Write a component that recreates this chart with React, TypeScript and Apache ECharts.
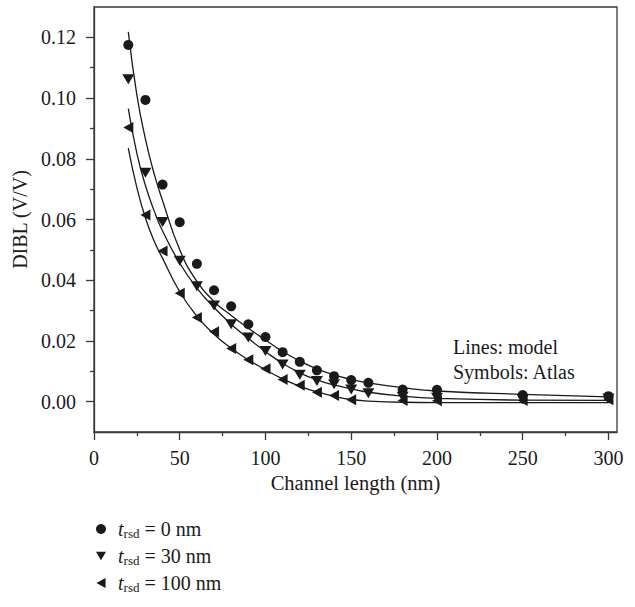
import React, { useEffect, useRef } from "react";
import * as echarts from "echarts";

// ---- Data ----
const atlasLengths = [20, 30, 40, 50, 60, 70, 80, 90, 100, 110, 120, 130, 140, 150, 160, 180, 200, 250, 300];
const atlas0 = [0.1175, 0.0994, 0.0715, 0.0591, 0.0454, 0.0367, 0.0314, 0.0255, 0.0213, 0.0163, 0.0131, 0.0103, 0.0084, 0.0071, 0.0062, 0.004, 0.0039, 0.0022, 0.0018];
const atlas30 = [0.1062, 0.0754, 0.0592, 0.0464, 0.038, 0.0317, 0.0255, 0.0211, 0.0167, 0.0122, 0.0089, 0.0068, 0.0057, 0.004, 0.0028, 0.0016, 0.0013, 0.0008, 0.001];
const atlasLengths100 = [20, 30, 40, 50, 60, 70, 80, 90, 100, 110, 120, 130, 140, 150, 180, 200, 250, 300];
const atlas100 = [0.0903, 0.0615, 0.0496, 0.0357, 0.0277, 0.023, 0.0175, 0.0138, 0.0108, 0.0073, 0.0054, 0.0031, 0.002, 0.0006, 0.0004, 0.0003, 0.0004, 0.0006];

const modelLengths = [20, 25, 30, 35, 40, 50, 60, 70, 80, 90, 100, 110, 120, 130, 140, 150, 160, 180, 200, 250, 300];
const model0 = [0.1218, 0.101, 0.0865, 0.0752, 0.0662, 0.05, 0.0396, 0.033, 0.0284, 0.0242, 0.0203, 0.0165, 0.0134, 0.0108, 0.0088, 0.0073, 0.0062, 0.0046, 0.0035, 0.0024, 0.0016];
const model30 = [0.0965, 0.0818, 0.0712, 0.063, 0.0562, 0.0456, 0.0374, 0.031, 0.0255, 0.0208, 0.0165, 0.0126, 0.0095, 0.0072, 0.0055, 0.0042, 0.0031, 0.0018, 0.0011, 0.0005, 0.0004];
const model100 = [0.0835, 0.0705, 0.0605, 0.053, 0.0472, 0.0362, 0.0282, 0.0222, 0.0176, 0.0138, 0.0105, 0.0075, 0.0051, 0.0032, 0.0018, 0.0007, 0.0002, -0.0002, -0.0003, -0.0003, -0.0003];

const thicknesses = ["0", "30", "100"];
const seriesNames = ["trsd = 0 nm", "trsd = 30 nm", "trsd = 100 nm"];

const xMajor = [0, 50, 100, 150, 200, 250, 300];
const xMinor = [25, 75, 125, 175, 225, 275];
const yMajor = [0, 0.02, 0.04, 0.06, 0.08, 0.1, 0.12];
const yMinor = [0.01, 0.03, 0.05, 0.07, 0.09, 0.11];

const FONT = '"Liberation Serif", "DejaVu Serif", serif';
const INK = "#1a1a1a";
const AXIS = "#3a3a3a";

const SYM_CIRCLE = "circle";
const SYM_DOWN = "path://M0,0 L12,0 L6,10 Z";
const SYM_LEFT = "path://M10,0 L10,11 L0,5.5 Z";

function pairs(xs: number[], ys: number[]) {
  return xs.map((x, i) => [x, ys[i]]);
}

export default function App() {
  const ref = useRef<HTMLDivElement>(null);

  useEffect(() => {
    if (!ref.current) return;
    const chart = echarts.init(ref.current, null, { renderer: "svg" });
    const grid = { left: 94, right: 18, top: 7, bottom: 175 };
    const lineStyle = { color: AXIS, width: 1.3 };
    const labelStyle = { fontFamily: FONT, fontSize: 20, color: INK };

    const modelSeries = [model0, model30, model100].map((ys) => ({
      type: "line",
      xAxisIndex: 0,
      yAxisIndex: 0,
      data: pairs(modelLengths, ys),
      smooth: 0.5,
      showSymbol: false,
      symbol: "none",
      lineStyle: { color: INK, width: 1.3 },
      silent: true,
      z: 2,
    }));

    const symbols = [SYM_CIRCLE, SYM_DOWN, SYM_LEFT];
    const sizes: any[] = [10, [12, 10], [10, 11]];
    const atlasX = [atlasLengths, atlasLengths, atlasLengths100];
    const atlasY = [atlas0, atlas30, atlas100];
    const atlasSeries = atlasY.map((ys, i) => ({
      type: "scatter",
      name: seriesNames[i],
      xAxisIndex: 0,
      yAxisIndex: 0,
      data: pairs(atlasX[i], ys),
      symbol: symbols[i],
      symbolSize: sizes[i],
      itemStyle: { color: INK, opacity: 1 },
      z: 3,
    }));

    chart.setOption({
      animation: false,
      backgroundColor: "#ffffff",
      grid: [
        { ...grid, show: true, borderColor: AXIS, borderWidth: 1.3, backgroundColor: "transparent" },
        { ...grid, show: false },
      ],
      xAxis: [
        {
          type: "value",
          gridIndex: 0,
          min: 0,
          max: 305,
          position: "bottom",
          axisLine: { show: true, onZero: false, lineStyle },
          axisTick: { show: true, customValues: xMajor, length: 8, lineStyle },
          axisLabel: { ...labelStyle, customValues: xMajor, margin: 16 },
          splitLine: { show: false },
          name: "Channel length (nm)",
          nameLocation: "middle",
          nameGap: 40,
          nameTextStyle: { fontFamily: FONT, fontSize: 20.5, color: INK },
        },
        {
          type: "value",
          gridIndex: 1,
          min: 0,
          max: 305,
          position: "bottom",
          axisLine: { show: false, onZero: false },
          axisTick: { show: true, customValues: xMinor, length: 4, lineStyle },
          axisLabel: { show: false },
          splitLine: { show: false },
        },
      ],
      yAxis: [
        {
          type: "value",
          gridIndex: 0,
          min: -0.01,
          max: 0.13,
          position: "left",
          axisLine: { show: true, onZero: false, lineStyle },
          axisTick: { show: true, customValues: yMajor, length: 8, lineStyle },
          axisLabel: {
            ...labelStyle,
            customValues: yMajor,
            margin: 18,
            formatter: (v: number) => v.toFixed(2),
          },
          splitLine: { show: false },
          name: "DIBL (V/V)",
          nameLocation: "middle",
          nameGap: 56,
          nameTextStyle: { fontFamily: FONT, fontSize: 20, color: INK },
        },
        {
          type: "value",
          gridIndex: 1,
          min: -0.01,
          max: 0.13,
          position: "left",
          axisLine: { show: false, onZero: false },
          axisTick: { show: true, customValues: yMinor, length: 4, lineStyle },
          axisLabel: { show: false },
          splitLine: { show: false },
        },
      ],
      legend: {
        orient: "vertical",
        left: 91,
        top: 514,
        itemWidth: 10,
        itemHeight: 10,
        itemGap: 6,
        selectedMode: false,
        data: seriesNames,
        formatter: (name: string) => {
          const i = seriesNames.indexOf(name);
          return `{t|t}{s|rsd}{n| = ${thicknesses[i]} nm}`;
        },
        textStyle: {
          color: INK,
          fontFamily: FONT,
          rich: {
            t: { fontFamily: FONT, fontSize: 20, fontStyle: "italic", lineHeight: 22, padding: [0, 0, 0, 7], color: INK },
            s: { fontFamily: FONT, fontSize: 13, lineHeight: 8, verticalAlign: "bottom", color: INK },
            n: { fontFamily: FONT, fontSize: 20, lineHeight: 22, color: INK },
          },
        },
      },
      graphic: [
        {
          type: "text",
          left: 453,
          top: 334,
          style: {
            text: "Lines: model\nSymbols: Atlas",
            font: `20px ${FONT}`,
            lineHeight: 25,
            fill: INK,
          },
        },
      ],
      series: [...modelSeries, ...atlasSeries],
    });

    return () => chart.dispose();
  }, []);

  return (
    <div
      ref={ref}
      style={{ position: "absolute", left: 0, top: 0, width: 635, height: 607, background: "#fff" }}
    />
  );
}
